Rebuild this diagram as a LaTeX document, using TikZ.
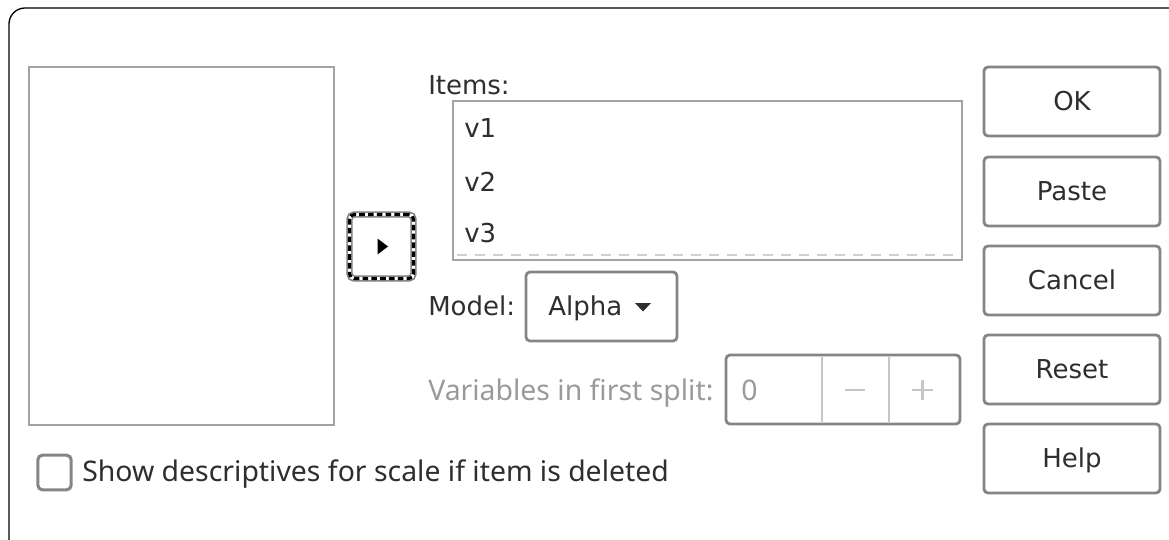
\documentclass[tikz,border=0pt]{standalone}
\usepackage{fontspec}
\setmainfont{DejaVu Sans}
\newfontfamily\notofont{Noto Sans}
\definecolor{txt}{HTML}{2E2E2E}
\definecolor{btnborder}{HTML}{858585}
\definecolor{listborder}{HTML}{A3A3A3}
\definecolor{dis}{HTML}{9A9A9A}
\definecolor{divc}{HTML}{C6C6C6}
\definecolor{dashc}{HTML}{CFCFCF}
\tikzset{
  mainfont/.style={font=\fontsize{19.5pt}{23pt}\selectfont, text=txt},
  btnbox/.style={draw=btnborder, line width=2.1pt, rounded corners=3pt, fill=white,
     minimum width=132pt, minimum height=51.75pt, inner sep=0pt,
     mainfont, text height=14pt, text depth=0pt},
  listbox/.style={draw=listborder, line width=1.4pt, fill=white, inner sep=0pt},
  lbl/.style={anchor=base west, inner sep=0pt, mainfont},
  dislbl/.style={anchor=base west, inner sep=0pt, font=\notofont\fontsize{21.3pt}{25pt}\selectfont, text=dis},
  movebox/.style={rounded corners=3.5pt, minimum width=48pt, minimum height=48pt, inner sep=0pt},
}
\begin{document}
\begin{tikzpicture}[x=0.75pt,y=-0.75pt]
\useasboundingbox (0,0) rectangle (1169,539);
\begin{scope}
  \clip (0,0) rectangle (1169,539);
  \draw[line width=1pt, black, rounded corners=12pt] (9,8) rectangle (1186,556);
\end{scope}
% left list
\node[listbox, minimum width=228.75pt, minimum height=268.5pt] (leftlist) at (181.5,246) {};
% move button
\node[movebox, draw=black!50, line width=4.8pt] (movebtn) at (381.5,246.5) {};
\node[movebox, draw=white, line width=2.4pt] (movefocus) at (381.5,246.5) {};
\node[movebox, draw=black, dash pattern=on 4.2pt off 2.4pt, line width=2.4pt] (movedash) at (381.5,246.5) {};
\fill[black] (377.5,238.5) -- (388,246.5) -- (377.5,254.5) -- cycle;
% items
\node[lbl] (itemslbl) at (428,94) {Items:};
\node[listbox, minimum width=381.75pt, minimum height=119.25pt] (itemlist) at (707.5,180.5) {};
\node[lbl] (v1) at (464,137.5) {v1};
\node[lbl] (v2) at (464,191.5) {v2};
\node[lbl] (v3) at (464,242.5) {v3};
\coordinate (dashL) at (457,255);
\coordinate (dashR) at (958,255);
\draw[dashc, line width=1pt, dash pattern=on 7.5pt off 6pt] (dashL) -- (dashR);
% model
\node[lbl] (modellbl) at (428,315.5) {Model:};
\node[draw=btnborder, line width=2.1pt, rounded corners=3pt, minimum width=113.25pt, minimum height=51.75pt, inner sep=0pt] (combo) at (601.5,306.5) {};
\node[lbl] (alpha) at (548,315.5) {Alpha};
\fill[txt] (635,303) -- (651,303) -- (643,311.5) -- cycle;
% variables
\node[dislbl] (varlbl) at (428,400) {Variables in first split:};
\node[draw=btnborder, line width=2.1pt, rounded corners=3pt, minimum width=175.5pt, minimum height=51.75pt, inner sep=0pt] (spin) at (843,389.5) {};
\draw[divc, line width=1.6pt] (822,357) -- (822,422);
\draw[divc, line width=1.6pt] (889,357) -- (889,422);
\node[dislbl] (zero) at (741,400) {0};
\draw[divc, line width=1.8pt] (845,390) -- (865,390);
\draw[divc, line width=1.8pt] (912,390) -- (933,390) (922.5,380) -- (922.5,400);
% buttons
\node[btnbox] (ok) at (1072,101.5) {OK};
\node[btnbox] (paste) at (1072,191.5) {Paste};
\node[btnbox] (cancel) at (1072,280.5) {Cancel};
\node[btnbox] (reset) at (1072,369.5) {Reset};
\node[btnbox] (help) at (1072,458.5) {Help};
% checkbox
\node[draw=btnborder, line width=2.3pt, rounded corners=3.5pt, minimum width=25pt, minimum height=26pt, inner sep=0pt] (chk) at (54.5,472.5) {};
\node[anchor=base west, inner sep=0pt, font=\notofont\fontsize{21.3pt}{25pt}\selectfont, text=txt] (chklbl) at (82,481) {Show descriptives for scale if item is deleted};
\end{tikzpicture}
\end{document}
